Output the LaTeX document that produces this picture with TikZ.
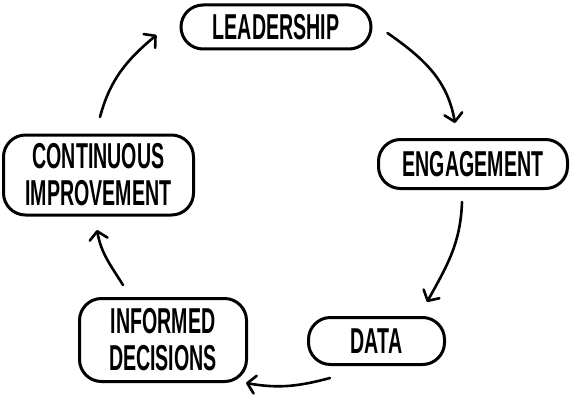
\documentclass[tikz,border=0pt]{standalone}
\usepackage{fontspec}
\usepackage{tikz}
\usetikzlibrary{arrows.meta}
\newfontfamily\boxfont{Liberation Sans}[FakeStretch=0.545]

\begin{document}
\begin{tikzpicture}[-,>={Straight Barb[round,length=8pt,width=18pt]},x=1pt,y=1pt,
  line width=3pt,line cap=round,
  box node/.style={draw,rounded corners=22pt,inner sep=0pt,align=center,
        font=\boxfont\bfseries\fontsize{36}{37}\selectfont}]
  \useasboundingbox (0,0) rectangle (573,400);
  \node[box node,minimum width=190pt,minimum height=44pt] (lead) at (276,373) {LEADERSHIP};
  \node[box node,minimum width=189pt,minimum height=49pt] (eng) at (473,236) {ENGAGEMENT};
  \node[box node,minimum width=136pt,minimum height=47pt] (data) at (376.5,59) {DATA};
  \node[box node,minimum width=167pt,minimum height=83pt] (inf) at (163,60) {INFORMED\\DECISIONS};
  \node[box node,minimum width=190pt,minimum height=80pt] (cont) at (98.5,225) {CONTINUOUS\\IMPROVEMENT};

  \path[->,line width=2.6pt]
    ([xshift=15pt,yshift=-6pt]lead.east) edge[out=-35,in=100] ([xshift=-18pt,yshift=15pt]eng.north)
    ([xshift=-11pt,yshift=-12pt]eng.south) edge[out=-92,in=61] ([xshift=-19pt,yshift=14pt]data.north east)
    ([xshift=23pt,yshift=-12pt]data.south west) edge[out=-165,in=-10] ([xshift=-2pt]inf.south east)
    ([xshift=-40pt,yshift=12pt]inf.north) edge[out=122,in=-80] ([xshift=-1.5pt,yshift=-13.5pt]cont.south)
    ([xshift=1.5pt,yshift=16.5pt]cont.north) edge[out=75,in=-140] ([xshift=-23pt,yshift=-8pt]lead.west);
\end{tikzpicture}
\end{document}
